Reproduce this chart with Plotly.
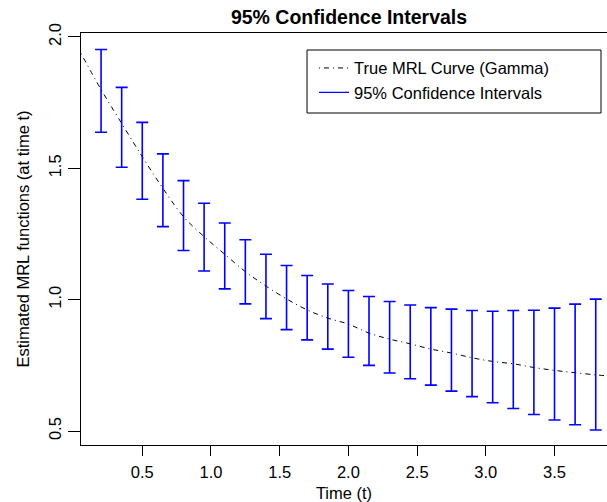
import plotly.graph_objects as go

# Data
ci_x = [0.20, 0.35, 0.50, 0.65, 0.80, 0.95, 1.10, 1.25, 1.40, 1.55, 1.70, 1.85, 2.00,
        2.15, 2.30, 2.45, 2.60, 2.75, 2.90, 3.05, 3.20, 3.35, 3.50, 3.65, 3.80]
ci_upper = [1.952, 1.808, 1.675, 1.555, 1.453, 1.367, 1.292, 1.228, 1.173, 1.130, 1.092,
            1.060, 1.035, 1.012, 0.993, 0.980, 0.970, 0.964, 0.959, 0.956, 0.959, 0.960,
            0.968, 0.983, 1.002]
ci_lower = [1.637, 1.504, 1.382, 1.278, 1.187, 1.109, 1.041, 0.984, 0.928, 0.886, 0.847,
            0.812, 0.781, 0.750, 0.721, 0.699, 0.675, 0.652, 0.631, 0.608, 0.586, 0.563,
            0.542, 0.524, 0.504]

curve_x = [0.054, 0.20, 0.35, 0.50, 0.65, 0.80, 0.95, 1.10, 1.25, 1.40, 1.55, 1.70, 1.85,
           2.00, 2.15, 2.30, 2.45, 2.60, 2.75, 2.90, 3.05, 3.20, 3.35, 3.50, 3.65, 3.80, 3.882]
curve_y = [1.937, 1.800, 1.671, 1.544, 1.424, 1.316, 1.240, 1.173, 1.107, 1.052, 1.003,
           0.961, 0.930, 0.907, 0.873, 0.850, 0.832, 0.812, 0.797, 0.779, 0.765, 0.756,
           0.742, 0.731, 0.722, 0.714, 0.710]

x_ticks = [0.5, 1.0, 1.5, 2.0, 2.5, 3.0, 3.5]
y_ticks = [0.5, 1.0, 1.5, 2.0]

ci_mid = [(u + l) / 2 for u, l in zip(ci_upper, ci_lower)]
ci_plus = [u - m for u, m in zip(ci_upper, ci_mid)]
ci_minus = [m - l for m, l in zip(ci_mid, ci_lower)]

FONT = "Liberation Sans, Arial, Helvetica, sans-serif"

fig = go.Figure()

fig.add_trace(go.Scatter(
    x=curve_x, y=curve_y, mode="lines", name="True MRL Curve (Gamma)",
    line=dict(color="black", width=1, dash="1px,4px,5px,4px", shape="spline"),
))

fig.add_trace(go.Scatter(
    x=ci_x, y=ci_mid, mode="markers", showlegend=False,
    marker=dict(color="rgba(0,0,0,0)", size=1),
    error_y=dict(type="data", symmetric=False, array=ci_plus, arrayminus=ci_minus,
                 color="#0000FF", thickness=1.6, width=6),
    hoverinfo="skip",
))

# legend entry for the intervals
fig.add_trace(go.Scatter(
    x=[None], y=[None], mode="lines", name="95% Confidence Intervals",
    line=dict(color="#0000FF", width=1.2),
))

# legend box
fig.add_shape(type="rect", xref="paper", yref="paper",
              x0=0.4297, x1=0.9886, y0=0.8058, y1=0.9587,
              line=dict(color="black", width=1), fillcolor="rgba(0,0,0,0)")

fig.update_layout(
    width=607, height=502,
    margin=dict(l=81, r=0, t=33, b=57),
    paper_bgcolor="white", plot_bgcolor="white",
    font=dict(family=FONT, size=16.5, color="black"),
    title=dict(text="<b>95% Confidence Intervals</b>", x=349 / 607,
               xanchor="center", y=1 - 17 / 502, yanchor="middle",
               font=dict(size=19.5, family=FONT, color="black")),
    showlegend=True,
    legend=dict(x=0.443, xanchor="left", y=0.957, yanchor="top",
                bgcolor="rgba(0,0,0,0)", borderwidth=0,
                font=dict(size=16.5, family=FONT, color="black"),
                tracegroupgap=0),
    xaxis=dict(range=[0.054, 3.882], tickvals=x_ticks,
               ticktext=[f"{v:.1f}" for v in x_ticks],
               showgrid=False, zeroline=False, showline=True, linecolor="black",
               linewidth=1, mirror=True, ticks="outside", ticklen=10,
               tickcolor="black", tickwidth=1, automargin=False,
               ticklabelstandoff=2,
               title=dict(text="Time (t)", standoff=7, font=dict(size=16.5))),
    yaxis=dict(range=[0.447, 2.015], tickvals=y_ticks,
               ticktext=[f"{v:.1f}" for v in y_ticks], tickangle=-90,
               showgrid=False, zeroline=False, showline=True, linecolor="black",
               linewidth=1, mirror=False, ticks="outside", ticklen=12,
               tickcolor="black", tickwidth=1, automargin=False,
               ticklabelstandoff=0,
               title=dict(text="Estimated MRL functions (at time t)", standoff=12,
                          font=dict(size=16.5))),
)

fig.write_html("out.html", config={"displayModeBar": False},
               post_script="document.body.style.margin='0';document.body.style.overflow='hidden';")
